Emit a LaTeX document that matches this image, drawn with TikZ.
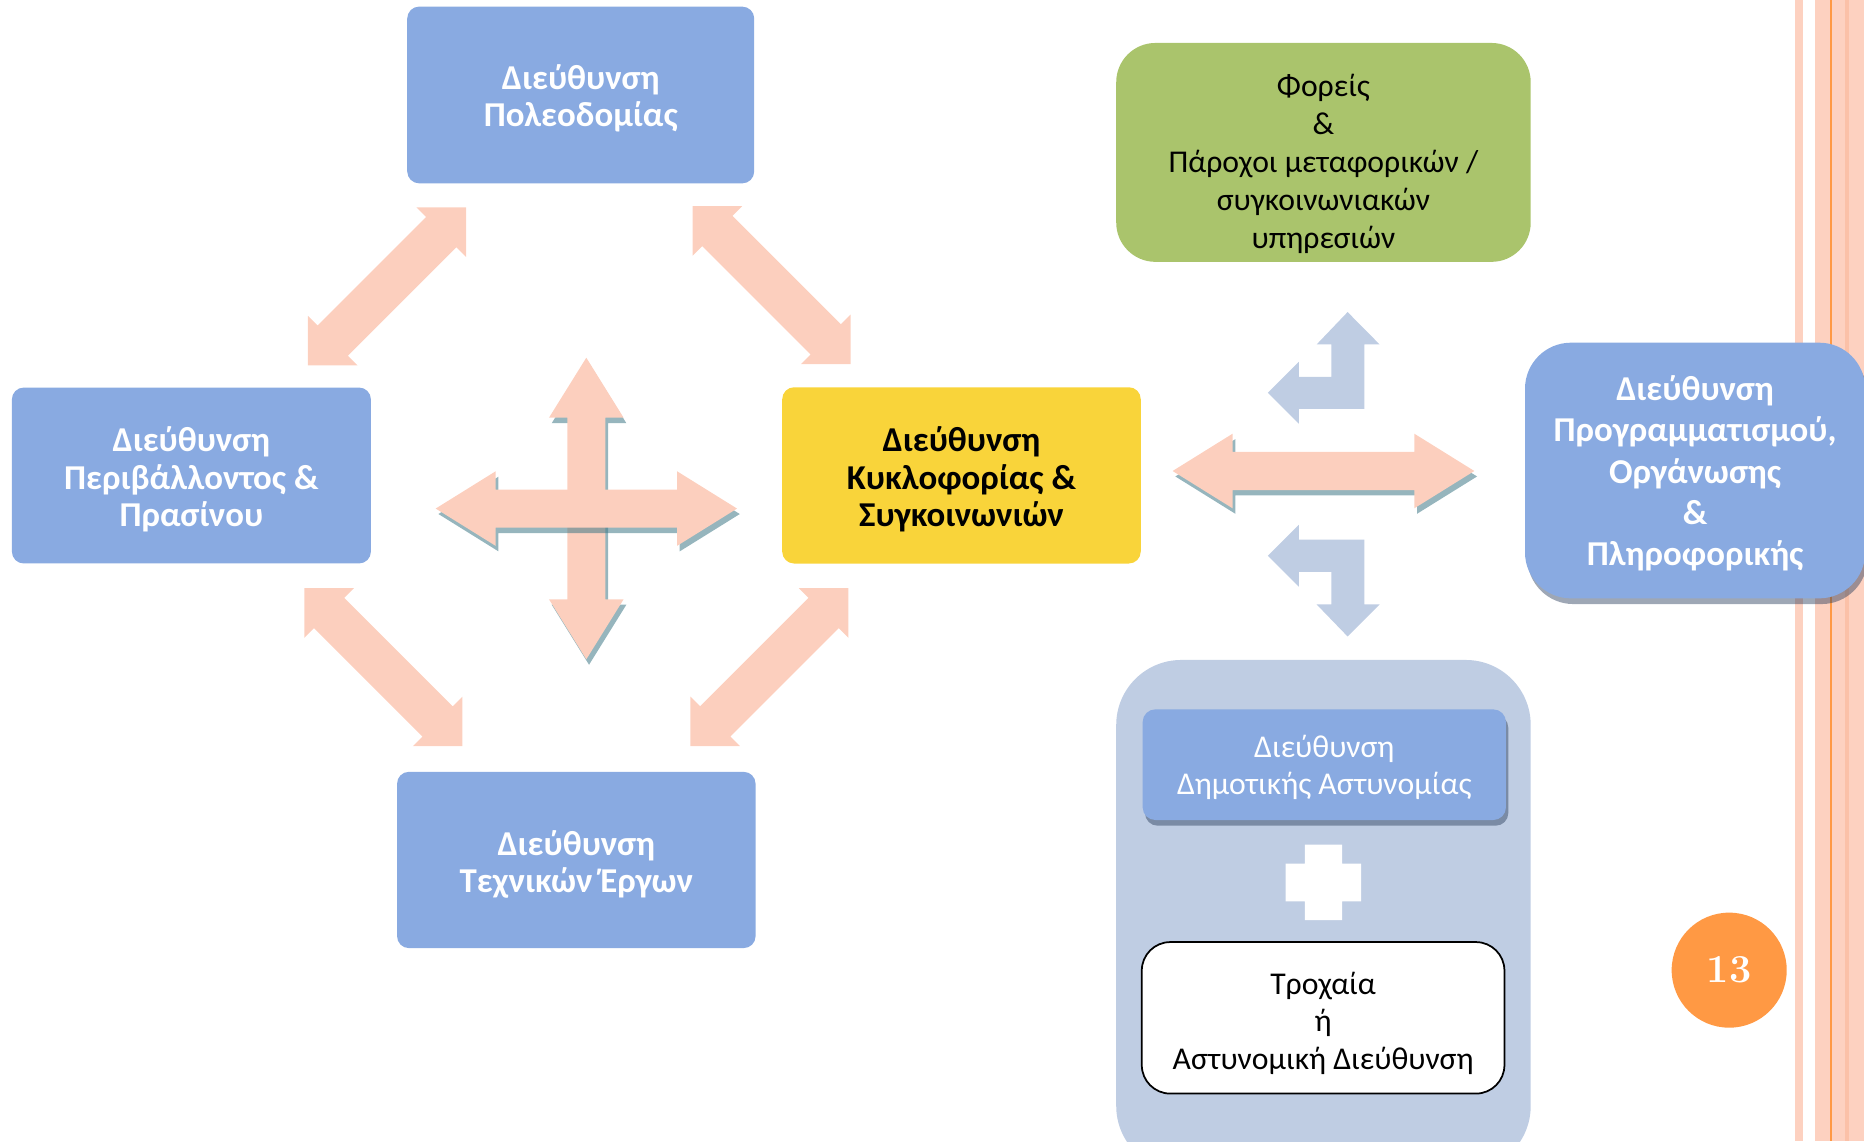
\documentclass[tikz,border=0pt]{standalone}
\usepackage{fontspec}
\newfontfamily\carlito{Carlito}
\usetikzlibrary{shadows}

\tikzset{
  deptbox/.style={rectangle, rounded corners=7.5pt, inner sep=0pt,
    minimum width=226.2pt, minimum height=111.2pt},
  boxblue/.style={deptbox, fill={rgb, 255:red, 137; green, 170; blue, 225}},
  boxyellow/.style={deptbox, fill={rgb, 255:red, 249; green, 212; blue, 58}},
  boxgreen/.style={deptbox, rounded corners=24.75pt, fill={rgb, 255:red, 170; green, 196; blue, 108}},
  boxshadow/.style={drop shadow={shadow xshift=1.5pt, shadow yshift=-3.6pt,
    fill={rgb, 255:red, 40; green, 60; blue, 90}, opacity=.45}},
  boldtext/.style={align=center, inner sep=0pt, font=\carlito\bfseries\fontsize{22}{23.6}\selectfont},
  plaintext/.style={align=center, inner sep=0pt, font=\carlito\fontsize{20}{23.6}\selectfont},
  arrowfill/.style={fill={rgb, 255:red, 252; green, 207; blue, 190}},
  arrowshadow/.style={fill={rgb, 255:red, 63; green, 121; blue, 134}, fill opacity=.55},
  bentfill/.style={fill={rgb, 255:red, 191; green, 205; blue, 227}},
  stripe/.style={fill={rgb, 255:red, 253; green, 209; blue, 192}},
}

% block arrow with two heads: style, start, angle, length, shaft half, head half, head length
\newcommand{\blockarrow}[7]{%
  \begin{scope}[shift={(#2)},rotate=#3]
    \fill[#1] (0,0) -- (#7,#6) -- (#7,#5) -- ({#4-#7},#5) -- ({#4-#7},#6) -- (#4,0)
      -- ({#4-#7},-#6) -- ({#4-#7},-#5) -- (#7,-#5) -- (#7,-#6) -- cycle;
  \end{scope}}

\begin{document}
\begin{tikzpicture}[x=0.75pt,y=0.75pt,yscale=-1,xscale=1]
\useasboundingbox (0,0) rectangle (1568,960);

%Shape: Stripes
\fill[stripe] (1510,0) rectangle (1516.7,960);
\fill[stripe] (1526.8,0) rectangle (1568,960);
\fill[fill={rgb, 255:red, 251; green, 193; blue, 168}] (1552,0) rectangle (1555.4,960);
\fill[fill={rgb, 255:red, 255; green, 153; blue, 68}] (1539,0) rectangle (1540.8,960);

%Shape: Departments
\node[boxblue, minimum width=218.9pt, minimum height=111.5pt] (urban) at (488.5,79.9) {};
\node[boxblue, minimum width=226.5pt, minimum height=111pt] (environ) at (161,400) {};
\node[boxyellow] (traffic) at (808.8,399.9) {};
\node[boxblue] (works) at (484.8,723.4) {};
\node[boxgreen, minimum width=261.5pt, minimum height=138.1pt] (carriers) at (1113.3,128.2) {};
\node[boxblue, boxshadow, rounded corners=29pt, minimum width=214.6pt, minimum height=161.3pt] (planning) at (1425.9,395.8) {};

%Shape: Police group
\node[bentfill, rectangle, rounded corners=41pt, minimum width=261.5pt, minimum height=322.4pt] (police) at (1113.3,770.1) {};
\node[boxblue, boxshadow, minimum width=229.2pt, minimum height=69.8pt, rounded corners=8pt] (municipal) at (1114,643.25) {};
\fill[white] (1097.6,710.4) -- (1129,710.4) -- (1129,726.4) -- (1145,726.4) -- (1145,758.2) -- (1129,758.2)
  -- (1129,774) -- (1097.6,774) -- (1097.6,758.2) -- (1081.5,758.2) -- (1081.5,726.4) -- (1097.6,726.4) -- cycle;
\node[deptbox, draw=black, line width=1.1pt, fill=white, rounded corners=18pt, minimum width=228.8pt,
  minimum height=95.6pt] (trafficpolice) at (1113,856.2) {};

% Text Node
\node[boldtext, text=white] (urbantext) at (488.5,82.9) {Διεύθυνση\\Πολεοδομίας};
% Text Node
\node[boldtext, text=white] (environtext) at (161,403.5) {Διεύθυνση\\Περιβάλλοντος \&\\Πρασίνου};
% Text Node
\node[boldtext, text=black] (traffictext) at (808.8,403.4) {Διεύθυνση\\Κυκλοφορίας \&\\Συγκοινωνιών};
% Text Node
\node[boldtext, text=white] (workstext) at (484.8,727.4) {Διεύθυνση\\Τεχνικών Έργων};
% Text Node
\node[plaintext, text=black, font=\carlito\fontsize{20}{24}\selectfont] (carrierstext) at (1113.3,137.7)
  {Φορείς\\\&\\Πάροχοι μεταφορικών /\\συγκοινωνιακών\\υπηρεσιών};
% Text Node
\node[boldtext, text=white, font=\carlito\bfseries\fontsize{22}{26}\selectfont] (planningtext) at (1425.9,398.3)
  {Διεύθυνση\\Προγραμματισμού,\\Οργάνωσης\\\&\\Πληροφορικής};
% Text Node
\node[plaintext, text=white, font=\carlito\fontsize{20}{23.2}\selectfont] (municipaltext) at (1114,645.8)
  {Διεύθυνση\\Δημοτικής Αστυνομίας};
% Text Node
\node[plaintext, text=black] (trafficpolicetext) at (1113,860.7) {Τροχαία\\ή\\Αστυνομική Διεύθυνση};

% Page number
\node[circle, fill={rgb, 255:red, 255; green, 153; blue, 68}, minimum size=72.6pt, inner sep=0pt,
  text=white, font=\bfseries\fontsize{25}{28}\selectfont] (pagenum) at (1454.6,816.1) {13};

%Shape: Diagonal arrows
\blockarrow{arrowfill}{392,174.4}{135}{188}{18}{29.5}{29.5}
\blockarrow{arrowfill}{582.6,173.4}{45}{188}{18}{29.5}{29.5}
\blockarrow{arrowfill}{256,494.8}{45}{188}{18}{29.5}{29.5}
\blockarrow{arrowfill}{713.7,494.8}{135}{188}{18}{29.5}{29.5}

%Shape: Cross arrows
\blockarrow{arrowshadow}{495.5,305.5}{90}{253.7}{16}{31.4}{50.5}
\blockarrow{arrowfill}{493.2,300.9}{90}{253.7}{16}{31.4}{50.5}
\blockarrow{arrowshadow}{368.8,432.4}{0}{253.5}{16}{31.4}{50.5}
\blockarrow{arrowfill}{366.5,427.8}{0}{253.5}{16}{31.4}{50.5}

%Shape: Right arrow
\blockarrow{arrowshadow}{988.7,400.8}{0}{253.8}{16}{31.4}{50.5}
\blockarrow{arrowfill}{986.4,396.2}{0}{253.8}{16}{31.4}{50.5}

%Shape: Bent arrows
\fill[bentfill] (1066.6,330.4) -- (1092.5,304.4) -- (1092.5,317) -- (1120,317) -- (1120,289.7) -- (1107.6,289.7)
  -- (1133.6,262.5) -- (1160.5,289.7) -- (1147.6,289.7) -- (1147.6,344) -- (1092.5,344) -- (1092.5,356.3) -- cycle;
\fill[bentfill] (1066.6,467.5) -- (1092.5,441.5) -- (1092.5,454) -- (1147.6,454) -- (1147.6,508.5) -- (1160.5,508.5)
  -- (1133.6,535.4) -- (1107.6,508.5) -- (1120,508.5) -- (1120,481) -- (1092.5,481) -- (1092.5,493.5) -- cycle;

\end{tikzpicture}
\end{document}
